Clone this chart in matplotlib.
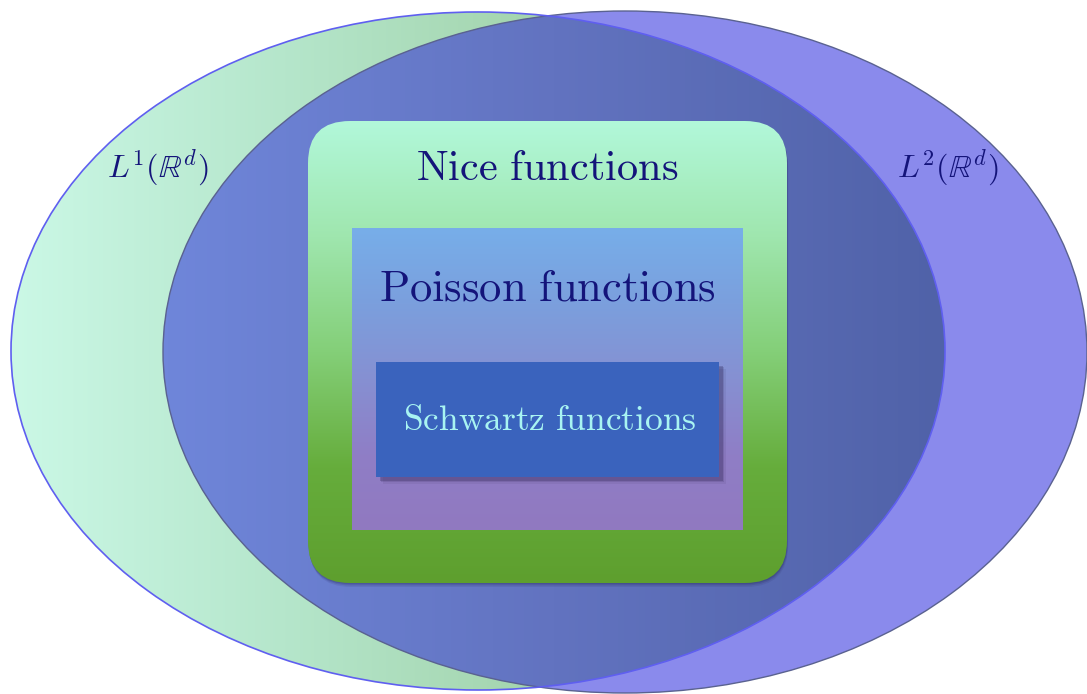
import numpy as np
import matplotlib
matplotlib.use('Agg')
import matplotlib.pyplot as plt
from matplotlib.patches import Ellipse, FancyBboxPatch, Rectangle, Polygon
from matplotlib.colors import LinearSegmentedColormap

plt.rcParams['mathtext.fontset'] = 'cm'

W, H = 1087, 694

# ellipses: centre x, centre y, width, height (pixel units)
l1 = (478, 351, 934, 678)
l2 = (625, 352, 924, 682)

# boxes: x, y, w, h
nice_box = (308, 121, 479, 462)
poisson_box = (352, 228, 391, 302)
schwartz_box = (376, 362, 343, 115)

set_labels = [r'$L^1(\mathbb{R}^d)$', r'$L^2(\mathbb{R}^d)$']
set_label_pos = [(158, 168), (948, 168)]
box_titles = [r'$\mathrm{Nice\ functions}$', r'$\mathrm{Poisson\ functions}$',
              r'$\mathrm{Schwartz\ functions}$']
box_title_pos = [(547, 168), (547, 288), (550, 420)]
box_title_size = [30.5, 32, 25.5]
box_title_color = ['#14147a', '#14147a', '#a8f4f2']

# colours
l1_grad = ['#cbf8e6', '#b5e6cb', '#a2d3ab']
l2_col = '#8a8aec'
both_grad = ['#6f86da', '#6273c0', '#5062a8']
nice_grad = ['#b2f8da', '#9fe6ae', '#84cf78', '#66ad3c', '#5e9f2e']
poisson_grad = ['#77aee9', '#7b9fdd', '#8690d2', '#8f7ec6', '#9179c0']
schwartz_col = '#3a63bd'


def ell_pts(e, n=600):
    t = np.linspace(0, 2 * np.pi, n, endpoint=False)
    return np.c_[e[0] + e[2] / 2 * np.cos(t), e[1] + e[3] / 2 * np.sin(t)]


def inside(p, e):
    return ((p[:, 0] - e[0]) / (e[2] / 2)) ** 2 + ((p[:, 1] - e[1]) / (e[3] / 2)) ** 2 <= 1


def gradient(ax, extent, cols, clip, vertical=False, z=1):
    cmap = LinearSegmentedColormap.from_list('g', cols)
    v = np.linspace(0, 1, 256)
    arr = v[:, None] if vertical else v[None, :]
    x0, x1, y0, y1 = extent
    im = ax.imshow(arr, cmap=cmap, extent=(x0, x1, y1, y0), origin='upper',
                   aspect='auto', interpolation='bicubic', zorder=z)
    im.set_clip_path(clip)
    return im


fig = plt.figure(figsize=(W / 100, H / 100), dpi=100)
ax = fig.add_axes([0, 0, 1, 1])
ax.set_xlim(0, W)
ax.set_ylim(H, 0)
ax.axis('off')

# L1 ellipse with horizontal gradient
e1 = Ellipse((l1[0], l1[1]), l1[2], l1[3], facecolor='none', edgecolor='none')
ax.add_patch(e1)
gradient(ax, (l1[0] - l1[2] / 2, 560, 0, H), l1_grad, e1, z=1)

# L2 ellipse, flat colour
e2 = Ellipse((l2[0], l2[1]), l2[2], l2[3], facecolor=l2_col, edgecolor='none', zorder=2)
ax.add_patch(e2)

# intersection (convex) -> polygon from both arcs, sorted by angle
p1 = ell_pts(l1)
p2 = ell_pts(l2)
pts = np.vstack([p1[inside(p1, l2)], p2[inside(p2, l1)]])
c = pts.mean(axis=0)
pts = pts[np.argsort(np.arctan2(pts[:, 1] - c[1], pts[:, 0] - c[0]))]
inter = Polygon(pts, closed=True, facecolor='none', edgecolor='none')
ax.add_patch(inter)
gradient(ax, (l2[0] - l2[2] / 2, l1[0] + l1[2] / 2, 0, H), both_grad, inter, z=3)

# outlines
ax.add_patch(Ellipse((l2[0], l2[1]), l2[2], l2[3], facecolor='none',
                     edgecolor='#5a6290', lw=1.0, zorder=4))
ax.add_patch(Ellipse((l1[0], l1[1]), l1[2], l1[3], facecolor='none',
                     edgecolor='#5f5ff0', lw=1.2, zorder=4))

# Nice functions box (rounded, with soft shadow)
x, y, w, h = nice_box
for k, a in [(4, 0.10), (2.5, 0.15), (1.2, 0.2)]:
    ax.add_patch(FancyBboxPatch((x + k * 0.3, y + k), w, h,
                                boxstyle='round,pad=0,rounding_size=42',
                                facecolor='#202050', edgecolor='none', alpha=a, zorder=5))
nb = FancyBboxPatch((x, y), w, h, boxstyle='round,pad=0,rounding_size=42',
                    facecolor='none', edgecolor='none', zorder=6)
ax.add_patch(nb)
gradient(ax, (x, x + w, y, y + h), nice_grad, nb, vertical=True, z=6)

# Poisson functions box
x, y, w, h = poisson_box
pb = Rectangle((x, y), w, h, facecolor='none', edgecolor='none', zorder=7)
ax.add_patch(pb)
gradient(ax, (x, x + w, y, y + h), poisson_grad, pb, vertical=True, z=7)

# Schwartz functions box with drop shadow
x, y, w, h = schwartz_box
for k, a in [(7, 0.08), (5, 0.15), (3.5, 0.25)]:
    ax.add_patch(Rectangle((x + k, y + k), w, h, facecolor='#2a2050',
                           edgecolor='none', alpha=a, zorder=8))
ax.add_patch(Rectangle((x, y), w, h, facecolor=schwartz_col, edgecolor='none', zorder=9))

# texts
for t, (tx, ty) in zip(set_labels, set_label_pos):
    ax.text(tx, ty, t, fontsize=23, color='#14147a', ha='center', va='center', zorder=10)
for t, (tx, ty), s, col in zip(box_titles, box_title_pos, box_title_size, box_title_color):
    ax.text(tx, ty, t, fontsize=s, color=col, ha='center', va='center', zorder=10)

fig.savefig('out.png', dpi=100)
